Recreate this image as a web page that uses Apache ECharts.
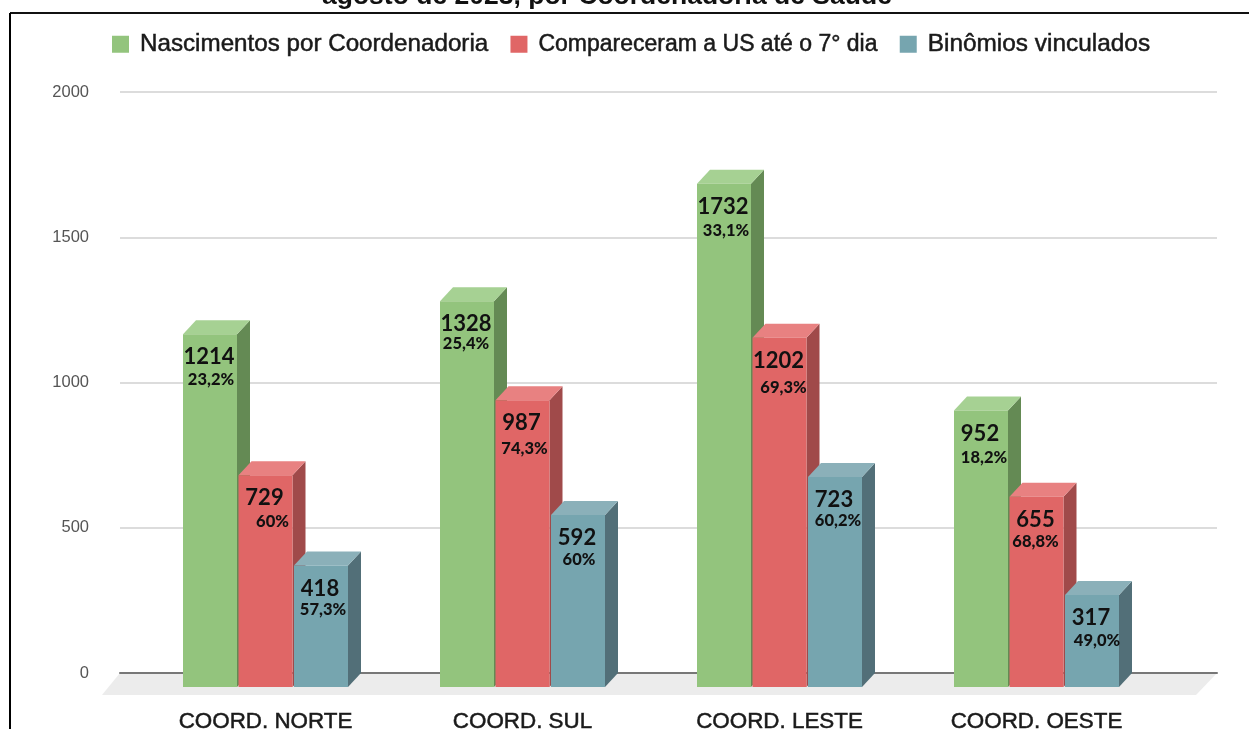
<!DOCTYPE html>
<html>
<head>
<meta charset="utf-8">
<style>
  html, body { margin: 0; padding: 0; background: #fff; overflow: hidden; }
  #chart { width: 1249px; height: 729px; }
</style>
<script src="https://cdn.jsdelivr.net/npm/echarts@6/dist/echarts.min.js"></script>
</head>
<body>
<div id="chart"></div>
<script>
const categories = ["COORD. NORTE", "COORD. SUL", "COORD. LESTE", "COORD. OESTE"];
const nascimentos = [1214, 1328, 1732, 952];
const compareceram = [729, 987, 1202, 655];
const binomios = [418, 592, 723, 317];
const pctNascimentos = ["23,2%", "25,4%", "33,1%", "18,2%"];
const pctCompareceram = ["60%", "74,3%", "69,3%", "68,8%"];
const pctBinomios = ["57,3%", "60%", "60,2%", "49,0%"];
const yTicks = { min: 0, max: 2000, interval: 500 };

const FONT = '"Liberation Sans", Arial, sans-serif';
const LABEL_FONT = 'Lato, "Noto Sans", sans-serif';

// bar geometry, px
const BAR_W = 54;
const PITCH = 55.5;
const DX = 13;
const DY = 14;

// small hand placed shifts of the percent labels [x, y], same order as the data
const pctShift = [
  [[1, 45], [7, 46], [2, 44]],
  [[-1, 42], [2, 48], [1, 45]],
  [[2, 47], [4, 50], [3, 44]],
  [[3, 47], [-1, 45], [5, 46]],
];

function barSeries(name, idx, values, pcts, front, side, top) {
  return {
    name: name,
    type: "custom",
    xAxisIndex: 1,
    yAxisIndex: 1,
    clip: false,
    z: 5 + idx,
    itemStyle: { color: front },
    encode: { x: 0, y: 1 },
    data: values.map((v, i) => [categories[i], v]),
    renderItem: (params, api) => {
      const i = params.dataIndex;
      const back = api.coord([api.value(0), api.value(1)]);
      const zero = api.coord([api.value(0), 0]);
      const cx = back[0] + (idx - 1) * PITCH;
      const x0 = cx - BAR_W / 2;
      const x1 = cx + BAR_W / 2;
      const yTop = back[1] + DY;
      const yBot = zero[1] + DY;
      const shift = pctShift[i][idx];
      const poly = (points, fill) => ({
        type: "polygon",
        shape: { points: points },
        style: { fill: fill },
      });
      return {
        type: "group",
        children: [
          poly([[x1, yTop], [x1 + DX, yTop - DY], [x1 + DX, yBot - DY], [x1, yBot]], side),
          poly([[x0, yTop], [x0 + DX, yTop - DY], [x1 + DX, yTop - DY], [x1, yTop]], top),
          poly([[x0, yTop], [x1, yTop], [x1, yBot], [x0, yBot]], front),
          {
            type: "text",
            x: cx - 1,
            y: yTop + 23,
            style: {
              text: String(values[i]),
              fill: "#111",
              font: "bold 22px " + LABEL_FONT,
              align: "center",
              verticalAlign: "middle",
            },
          },
          {
            type: "text",
            x: cx + shift[0],
            y: yTop + shift[1],
            style: {
              text: pcts[i],
              fill: "#111",
              font: "900 16.5px " + LABEL_FONT,
              align: "center",
              verticalAlign: "middle",
            },
          },
        ],
      };
    },
  };
}

const chart = echarts.init(document.getElementById("chart"), null, { renderer: "canvas" });
chart.setOption({
  animation: false,
  backgroundColor: "#fff",
  title: {
    text: "agosto de 2023, por Coordenadoria de Saúde",
    left: 317,
    top: -22,
    textStyle: { fontFamily: FONT, fontSize: 26.5, fontWeight: "bold", color: "#111" },
  },
  legend: {
    top: 27,
    left: 107,
    icon: "rect",
    itemWidth: 17,
    itemHeight: 17,
    itemGap: 22,
    textStyle: {
      fontFamily: FONT,
      fontSize: 24,
      color: "#1a1a1a",
      textBorderColor: "#1a1a1a",
      textBorderWidth: 0.5,
      padding: [0, 0, 0, 6],
    },
    data: [
      { name: "Nascimentos por Coordenadoria", textStyle: { fontSize: 24.2 } },
      { name: "Compareceram a US até o 7° dia", textStyle: { fontSize: 23 } },
      { name: "Binômios vinculados", textStyle: { fontSize: 24.4 } },
    ],
  },
  grid: [
    { left: 120, width: 1097, top: 92, height: 581, outerBoundsMode: "none" },
    { left: 137, width: 1028, top: 92, height: 581, outerBoundsMode: "none" },
  ],
  xAxis: [
    {
      type: "category",
      gridIndex: 0,
      data: categories,
      axisTick: { show: false },
      axisLabel: { show: false },
      axisLine: { lineStyle: { color: "#777", width: 2 } },
    },
    {
      type: "category",
      gridIndex: 1,
      data: categories,
      axisTick: { show: false },
      axisLine: { show: false },
      axisLabel: {
        margin: 38,
        fontFamily: FONT,
        fontSize: 22.4,
        color: "#1a1a1a",
        textBorderColor: "#1a1a1a",
        textBorderWidth: 0.5,
      },
    },
  ],
  yAxis: [
    {
      type: "value",
      gridIndex: 0,
      min: yTicks.min,
      max: yTicks.max,
      interval: yTicks.interval,
      axisLine: { show: false },
      axisTick: { show: false },
      axisLabel: {
        margin: 31,
        fontFamily: FONT,
        fontSize: 16.5,
        color: "#555",
        padding: [3, 0, 0, 0],
        formatter: (v) => String(v),
      },
      splitLine: { lineStyle: { color: "#dcdcdc", width: 2 } },
    },
    {
      type: "value",
      gridIndex: 1,
      min: yTicks.min,
      max: yTicks.max,
      interval: yTicks.interval,
      show: false,
    },
  ],
  graphic: [
    // floor under the bars
    { type: "polygon", z: -1, shape: { points: [[120, 673], [1217, 673], [1196, 695], [102, 695]] }, style: { fill: "#ececec" } },
    // frame left over from the page the chart was cut from
    { type: "line", z: 100, shape: { x1: 10, y1: 13, x2: 1249, y2: 13 }, style: { stroke: "#111", lineWidth: 2 } },
    { type: "line", z: 100, shape: { x1: 10, y1: 13, x2: 10, y2: 729 }, style: { stroke: "#000", lineWidth: 2 } },
  ],
  series: [
    barSeries("Nascimentos por Coordenadoria", 0, nascimentos, pctNascimentos, "#93c47d", "#648a54", "#a6d193"),
    barSeries("Compareceram a US até o 7° dia", 1, compareceram, pctCompareceram, "#e06666", "#a04a4a", "#e88181"),
    barSeries("Binômios vinculados", 2, binomios, pctBinomios, "#76a5af", "#526f78", "#8bb0b9"),
  ],
});
</script>
</body>
</html>
